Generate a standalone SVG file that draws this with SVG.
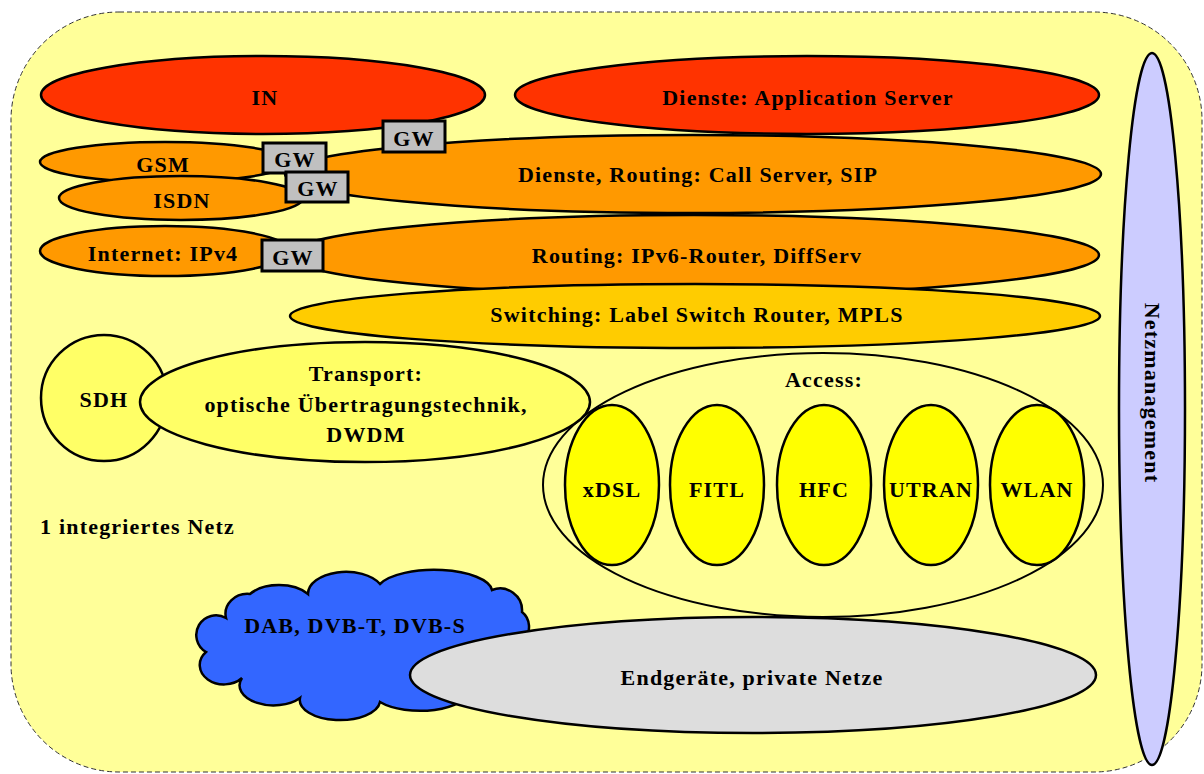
<svg xmlns="http://www.w3.org/2000/svg" width="1204" height="774" viewBox="0 0 1204 774">
<style>
.e{stroke:#000;stroke-width:2.5}
.t{font-family:"Liberation Serif","Times New Roman",serif;font-weight:bold;font-size:22px;letter-spacing:1.2px;fill:#000;text-anchor:middle}
.gw{fill:#C0C0C0;stroke:#000;stroke-width:3}
.red{fill:#FF3300}
.or{fill:#FF9900}
.sw{fill:#FFCC00}
.tr{fill:#FFFF66}
.ac{fill:#FFFF00}
</style>
<rect id="background" x="11" y="12" width="1191" height="760" rx="108" ry="108" fill="#FFFF99" stroke="#333" stroke-width="1" stroke-dasharray="5,3"/>
<g id="connectors"/>
<g id="netzmanagement"><ellipse class="e" cx="1152" cy="409" rx="33" ry="356" fill="#CCCCFF"/><text class="t" transform="translate(1145,393) rotate(90)" x="0" y="0">Netzmanagement</text></g>
<g id="in"><ellipse class="e red" cx="263" cy="95" rx="222" ry="39"/><text class="t" x="265" y="105">IN</text></g>
<g id="dienste-as"><ellipse class="e red" cx="807" cy="95" rx="292" ry="39"/><text class="t" x="808" y="105">Dienste: Application Server</text></g>
<g id="dienste-routing"><ellipse class="e or" cx="693" cy="174" rx="408" ry="39"/><text class="t" x="698" y="182">Dienste, Routing: Call Server, SIP</text></g>
<g id="gsm"><ellipse class="e or" cx="165" cy="162" rx="125" ry="20"/><text class="t" x="163" y="172">GSM</text></g>
<g id="isdn"><ellipse class="e or" cx="181" cy="198" rx="122" ry="22"/><text class="t" x="182" y="208">ISDN</text></g>
<g id="routing"><ellipse class="e or" cx="694" cy="255" rx="405" ry="40"/><text class="t" x="697" y="263">Routing: IPv6-Router, DiffServ</text></g>
<g id="internet"><ellipse class="e or" cx="165" cy="251" rx="125" ry="25"/><text class="t" x="163" y="261">Internet: IPv4</text></g>
<g id="switching"><ellipse class="e sw" cx="695" cy="316" rx="405" ry="32"/><text class="t" x="697" y="322">Switching: Label Switch Router, MPLS</text></g>
<g id="gw1"><rect class="gw" x="383" y="121" width="62" height="31"/><text class="t" x="414" y="146">GW</text></g>
<g id="gw2"><rect class="gw" x="263" y="143" width="63" height="30"/><text class="t" x="295" y="167">GW</text></g>
<g id="gw3"><rect class="gw" x="286" y="172" width="62" height="30"/><text class="t" x="318" y="196">GW</text></g>
<g id="gw4"><rect class="gw" x="262" y="240" width="61" height="31"/><text class="t" x="293" y="265">GW</text></g>
<g id="access"><ellipse cx="823" cy="485" rx="280" ry="132" fill="#FFFF99" stroke="#000" stroke-width="2"/><text class="t" x="824" y="387">Access:</text></g>
<g id="sdh"><circle class="e tr" cx="104" cy="398" r="63"/><text class="t" x="104" y="407">SDH</text></g>
<g id="transport"><ellipse class="e tr" cx="365" cy="402" rx="225" ry="60"/><text class="t" x="366" y="381">Transport:</text><text class="t" x="366" y="412">optische Übertragungstechnik,</text><text class="t" x="366" y="442">DWDM</text></g>
<g id="xdsl"><ellipse class="e ac" cx="612" cy="485" rx="47" ry="80"/><text class="t" x="612" y="497">xDSL</text></g>
<g id="fitl"><ellipse class="e ac" cx="717" cy="485" rx="47" ry="80"/><text class="t" x="717" y="497">FITL</text></g>
<g id="hfc"><ellipse class="e ac" cx="824" cy="485" rx="47" ry="80"/><text class="t" x="824" y="497">HFC</text></g>
<g id="utran"><ellipse class="e ac" cx="931" cy="485" rx="47" ry="80"/><text class="t" x="931" y="497">UTRAN</text></g>
<g id="wlan"><ellipse class="e ac" cx="1037" cy="485" rx="47" ry="80"/><text class="t" x="1037" y="497">WLAN</text></g>
<g id="label-netz"><text class="t" x="40" y="534" style="text-anchor:start">1 integriertes Netz</text></g>
<g id="dab"><path class="e" fill="#3366FF" d="M226,618 A22,20 0 0 1 250,594 A36,22 0 0 1 308,594 A38,22 0 0 1 380,584 A58,22 0 0 1 492,590 A22,22 0 0 1 522,612 A16,18 0 0 1 524,640 L470,690 A50,22 0 0 1 380,702 A40,20 0 0 1 300,698 A34,20 0 0 1 242,678 A20,16 0 0 1 206,652 A18,18 0 0 1 226,618 Z"/><text class="t" x="355" y="633">DAB, DVB-T, DVB-S</text></g>
<g id="endgeraete"><ellipse class="e" cx="753" cy="675" rx="343" ry="58" fill="#DDDDDD"/><text class="t" x="752" y="685">Endgeräte, private Netze</text></g>
</svg>
